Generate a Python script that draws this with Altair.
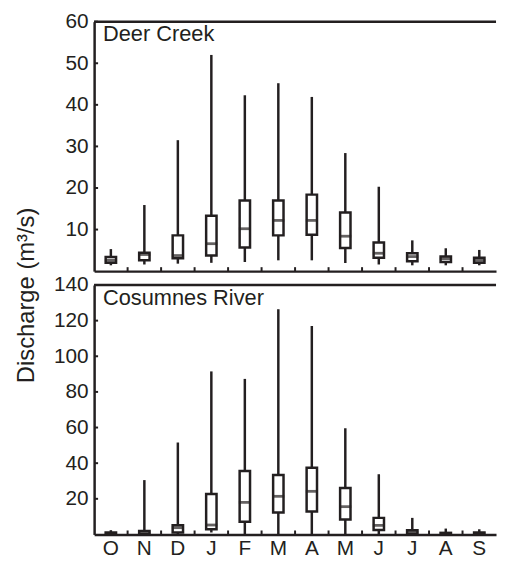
import altair as alt
import pandas as pd

month_keys = ["Oct", "Nov", "Dec", "Jan", "Feb", "Mar", "Apr", "May", "Jun", "Jul", "Aug", "Sep"]

deer_name = "Deer Creek"
deer_min = [1.4, 1.6, 1.8, 2.0, 2.2, 2.6, 2.6, 1.95, 1.6, 1.4, 1.4, 1.4]
deer_q1 = [2.0, 2.6, 3.1, 3.75, 5.7, 8.6, 8.75, 5.55, 3.2, 2.4, 2.2, 2.0]
deer_med = [2.6, 4.0, 3.75, 6.6, 10.2, 12.2, 12.2, 8.4, 4.3, 3.5, 3.0, 2.6]
deer_q3 = [3.4, 4.4, 8.6, 13.3, 17.0, 17.0, 18.4, 14.1, 6.9, 4.3, 3.5, 3.2]
deer_max = [5.3, 15.9, 31.5, 52.0, 42.3, 45.2, 41.9, 28.4, 20.3, 7.4, 5.5, 5.1]
deer_ticks = [10, 20, 30, 40, 50, 60]

cos_name = "Cosumnes River"
cos_min = [0.2, 0.2, 0.2, 1.1, 0.2, 0.2, 0.2, 0.2, 0.2, 0.2, 0.2, 0.2]
cos_q1 = [0.2, 0.2, 1.1, 2.9, 7.1, 12.3, 12.9, 8.4, 2.5, 0.2, 0.2, 0.2]
cos_med = [0.6, 1.0, 3.8, 5.3, 18.0, 21.4, 24.2, 15.6, 5.1, 1.2, 0.5, 0.6]
cos_q3 = [1.1, 2.0, 5.1, 22.7, 35.6, 33.4, 37.4, 26.1, 9.3, 2.4, 0.9, 1.1]
cos_max = [2.4, 30.5, 51.6, 91.5, 87.3, 126.4, 117.0, 59.6, 33.8, 9.3, 3.3, 2.9]
cos_ticks = [20, 40, 60, 80, 100, 120, 140]

INK = "#231f20"
FONT = "Liberation Sans"
W = 406
H = 252
LW = 2.5


def panel(name, mins, q1, med, q3, maxs, ymax, ticks, bottom, ytitle):
    df = pd.DataFrame({"month": month_keys, "lo": mins, "q1": q1, "med": med, "q3": q3, "hi": maxs})
    tick_df = pd.DataFrame({"v": ticks})
    bound_df = pd.DataFrame({"month": month_keys[1:]})
    name_df = pd.DataFrame({"name": [name]})

    xscale = alt.Scale(type="band", domain=month_keys, paddingInner=0, paddingOuter=0)
    if bottom:
        xaxis = alt.Axis(title=None, ticks=False, labelExpr="substring(datum.value, 0, 1)",
                         labelFontSize=21, labelPadding=3, labelColor=INK, labelFont=FONT,
                         domainWidth=LW, domainColor=INK, labelAngle=0)
    else:
        xaxis = alt.Axis(title=None, ticks=False, labels=False, domainWidth=LW, domainColor=INK)

    yscale = alt.Scale(domain=[0, ymax], nice=False, zero=True)
    if ytitle:
        yaxis = alt.Axis(values=ticks, title="Discharge (m³/s)", ticks=False, grid=False,
                         labelFontSize=21, labelPadding=6, labelColor=INK, labelFont=FONT,
                         titleFontSize=24, titleFont=FONT, titleFontWeight="normal", titleColor=INK,
                         titleX=-56, titleY=276, domainWidth=LW, domainColor=INK)
    else:
        yaxis = alt.Axis(values=ticks, title=None, ticks=False, grid=False,
                         labelFontSize=21, labelPadding=6, labelColor=INK, labelFont=FONT,
                         domainWidth=LW, domainColor=INK)

    def X(**kw):
        return alt.X("month:N", scale=xscale, axis=xaxis, **kw)

    def Y(field):
        return alt.Y(field, type="quantitative", scale=yscale, axis=yaxis)

    base = alt.Chart(df)
    whisk = base.mark_rule(color=INK, strokeWidth=LW).encode(x=X(), y=Y("lo"), y2="hi")
    box = base.mark_bar(size=10.5, fill="white", stroke=INK, strokeWidth=LW).encode(
        x=X(), y=Y("q1"), y2="q3")
    median = base.mark_tick(color=INK, thickness=2.8, size=12).encode(x=X(), y=Y("med"))
    ytk = alt.Chart(tick_df).mark_rule(color=INK, strokeWidth=2).encode(
        y=Y("v"), x=alt.value(0), x2=alt.value(4))
    btk = alt.Chart(bound_df).mark_rule(color=INK, strokeWidth=2).encode(
        x=X(bandPosition=0), y=alt.value(H), y2=alt.value(H - 4))
    topline = alt.Chart(name_df).mark_rule(color=INK, strokeWidth=LW).encode(
        x=alt.value(0), x2=alt.value(W), y=alt.value(0))
    label = alt.Chart(name_df).mark_text(align="left", baseline="alphabetic", fontSize=22,
                                         font=FONT, color=INK).encode(
        text="name:N", x=alt.value(9), y=alt.value(20))
    return alt.layer(whisk, box, median, ytk, btk, topline, label).properties(width=W, height=H)


top = panel(deer_name, deer_min, deer_q1, deer_med, deer_q3, deer_max, 60, deer_ticks, False, True)
bot = panel(cos_name, cos_min, cos_q1, cos_med, cos_q3, cos_max, 140, cos_ticks, True, False)

chart = alt.vconcat(top, bot, spacing=14, bounds="flush").properties(
    padding={"left": 7, "top": 0, "right": 0, "bottom": 0}
).configure(background="white").configure_view(stroke=None)

chart.save("out.html", embed_options={"renderer": "svg", "actions": False})
